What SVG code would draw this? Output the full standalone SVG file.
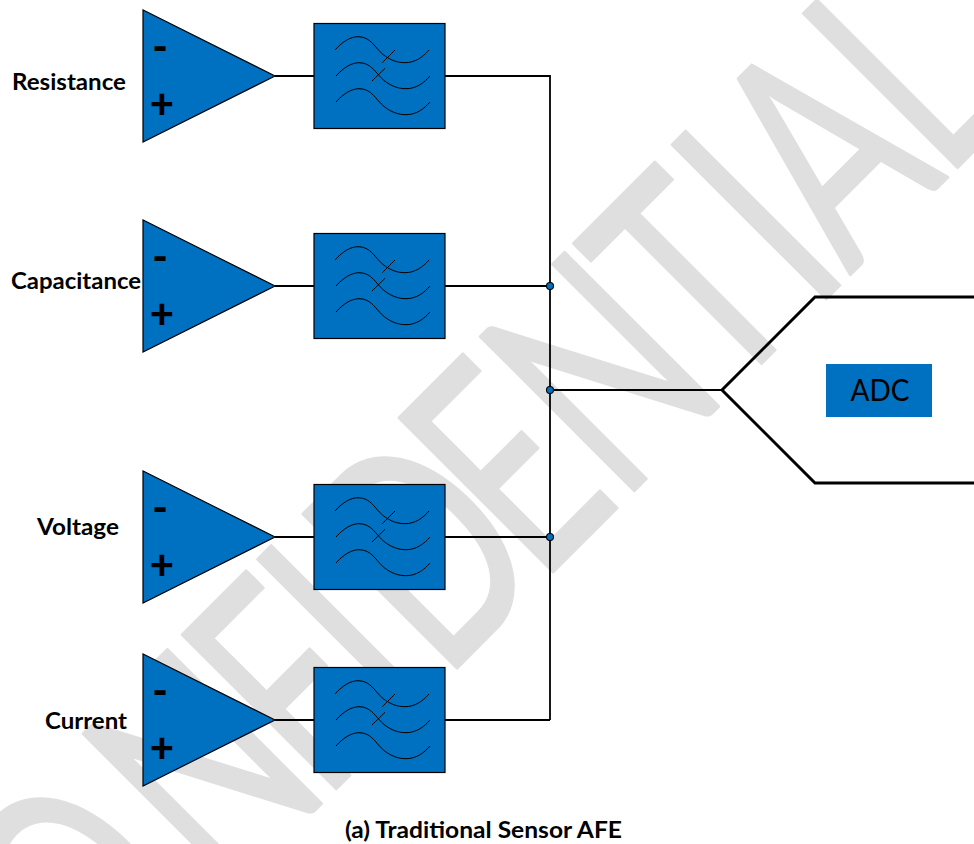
<svg xmlns="http://www.w3.org/2000/svg" width="974" height="844" viewBox="0 0 974 844">
<style>
.wm{font-family:"Lato","Open Sans",sans-serif;font-size:304px;font-weight:400;fill:#dfdfdf;stroke:#dfdfdf;stroke-width:3;stroke-linejoin:round}
.amp{fill:#0070c0;stroke:#000;stroke-width:1.2}
.box{fill:#0070c0;stroke:#000;stroke-width:1.2}
.w{fill:none;stroke:#000;stroke-width:1}
.l{font-family:"Lato","Open Sans",sans-serif;font-weight:700;font-size:23px;fill:#000}
.s{font-family:"Lato","Open Sans",sans-serif;font-weight:900;font-size:42px;fill:#000;text-anchor:middle}
.c{fill:none;stroke:#000;stroke-width:1.8}
.d{fill:#0070c0;stroke:#000;stroke-width:1.1}
</style>
<defs>
<g id="waves">
<path class="w" d="M335 50C343 41 351 36.7 358 36.7C371 36.7 375 48 383 54.5C390 60 397 62.7 405 62.7C415 62.7 423 57 429 50"/>
<path class="w" d="M336 76C344 67 352 62.7 359 62.7C372 62.7 376 74 384 80.5C391 86 398 88.7 406 88.7C416 88.7 424 83 430 76"/>
<path class="w" d="M336 102C344 93 352 88.7 359 88.7C372 88.7 376 100 384 106.5C391 112 398 114.7 406 114.7C416 114.7 424 109 430 102"/>
<path class="w" d="M382.3 62.7L395 50M372 81L385 68.3"/>
</g>
</defs>
<rect width="974" height="844" fill="#fff"/>
<g id="watermark" transform="translate(562.5 562.5) rotate(-45) scale(.68 1)">
<text class="wm" y="0" x="-1281 -972 -705 -499 -342 -248 -48 121 338 520 597 793">CONFIDENTIAL</text>
</g>
<g id="connectors">
<path class="c" d="M275 76H314M445 76H550V720M275 286H314M445 286H550M275 537H314M445 537H550M275 720H314M445 720H550M550 390H722"/>
<path fill="none" stroke="#000" stroke-width="3" d="M974 297H815L722 390L815 483H974"/>
<circle class="d" cx="550" cy="286" r="3.5"/>
<circle class="d" cx="550" cy="390" r="3.5"/>
<circle class="d" cx="550" cy="537" r="3.5"/>
</g>
<g id="amp1"><path class="amp" d="M143 10V142L275 76Z"/><text class="s" x="160" y="61">-</text><text class="s" x="162" y="118">+</text></g>
<g id="filter1"><rect class="box" x="314" y="23.5" width="131" height="105"/><use href="#waves"/></g>
<g id="amp2"><path class="amp" d="M143 220V352L275 286Z"/><text class="s" x="160" y="271">-</text><text class="s" x="162" y="328">+</text></g>
<g id="filter2"><rect class="box" x="314" y="233.5" width="131" height="105"/><use href="#waves" y="210"/></g>
<g id="amp3"><path class="amp" d="M143 471V603L275 537Z"/><text class="s" x="160" y="522">-</text><text class="s" x="162" y="579">+</text></g>
<g id="filter3"><rect class="box" x="314" y="484.5" width="131" height="105"/><use href="#waves" y="461"/></g>
<g id="amp4"><path class="amp" d="M143 654V786L275 720Z"/><text class="s" x="160" y="705">-</text><text class="s" x="162" y="762">+</text></g>
<g id="filter4"><rect class="box" x="314" y="667.5" width="131" height="105"/><use href="#waves" y="644"/></g>
<g id="adc"><rect x="826" y="364" width="106" height="53" fill="#0070c0"/><text x="880" y="401" text-anchor="middle" font-family="Lato,'Open Sans',sans-serif" font-size="30" fill="#000" textLength="59" lengthAdjust="spacingAndGlyphs">ADC</text></g>
<g id="labels">
<text class="l" x="12" y="90" textLength="114" lengthAdjust="spacingAndGlyphs">Resistance</text>
<text class="l" x="11" y="289" textLength="130" lengthAdjust="spacingAndGlyphs">Capacitance</text>
<text class="l" x="37" y="535" textLength="82" lengthAdjust="spacingAndGlyphs">Voltage</text>
<text class="l" x="45" y="729" textLength="82" lengthAdjust="spacingAndGlyphs">Current</text>
<text class="l" x="345" y="838" textLength="277" lengthAdjust="spacingAndGlyphs">(a) Traditional Sensor AFE</text>
</g>
</svg>
